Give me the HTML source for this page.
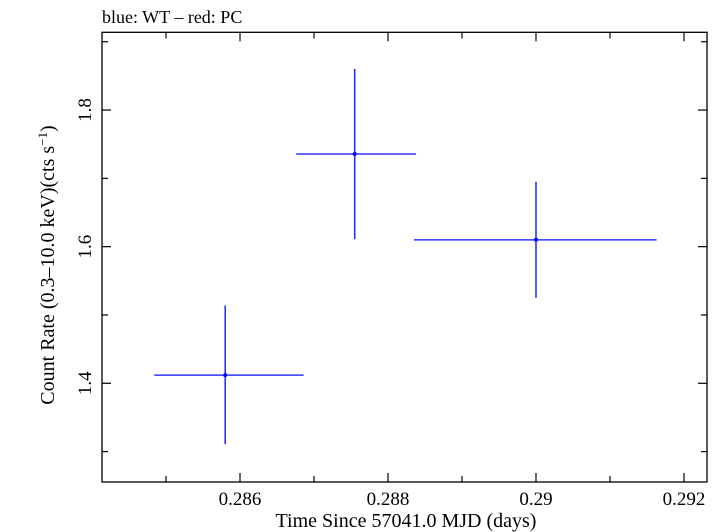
<!DOCTYPE html>
<html><head><meta charset="utf-8"><style>
body{margin:0;background:#fff}
svg{display:block;font-family:"Liberation Serif",serif}
</style></head><body>
<svg id="chart" width="723" height="532" viewBox="0 0 723 532" xmlns="http://www.w3.org/2000/svg">
<text x="102" y="23" font-size="18" fill="#000">blue: WT – red: PC</text>
<rect x="102" y="32.3" width="605" height="449.7" fill="none" stroke="#000" stroke-width="1.3"/>
<g id="ticks"></g>
<g id="marks"></g>
<text x="406" y="527" font-size="20" text-anchor="middle">Time Since 57041.0 MJD (days)</text>
<text transform="translate(54,265) rotate(-90)" font-size="20" text-anchor="middle">Count Rate (0.3–10.0 keV)(cts s<tspan dy="-7" font-size="13">−1</tspan><tspan dy="7">)</tspan></text>
</svg>
<script>
const xVals=[0.2858,0.28755,0.2900];
const xLo=[0.28484,0.28676,0.28835];
const xHi=[0.28686,0.28838,0.29163];
const yVals=[1.412,1.7356,1.610];
const yLo=[1.311,1.611,1.525];
const yHi=[1.514,1.860,1.695];
const xTickVals=[0.285,0.286,0.287,0.288,0.289,0.290,0.291,0.292];
const xTickLabels=["0.286","0.288","0.29","0.292"];
const yTickVals=[1.3,1.4,1.5,1.6,1.7,1.8,1.9];
const yTickLabels=["1.4","1.6","1.8"];
const L=102,R=707,T=32.3,B=482;
const X0=0.284135,X1=0.292311,Y0=1.2555,Y1=1.9138;
const sx=v=>L+(v-X0)/(X1-X0)*(R-L);
const sy=v=>B-(v-Y0)/(Y1-Y0)*(B-T);
const NS="http://www.w3.org/2000/svg";
const svg=document.getElementById('chart');
const tg=document.getElementById('ticks');
const mg=document.getElementById('marks');
function line(g,x1,y1,x2,y2,st,w){const l=document.createElementNS(NS,'line');l.setAttribute('x1',x1);l.setAttribute('y1',y1);l.setAttribute('x2',x2);l.setAttribute('y2',y2);l.setAttribute('stroke',st);l.setAttribute('stroke-width',w);g.appendChild(l);return l;}
function txt(x,y,s,anchor,rot){const t=document.createElementNS(NS,'text');t.setAttribute('x',x);t.setAttribute('y',y);t.setAttribute('font-size','19');t.setAttribute('text-anchor',anchor);if(rot)t.setAttribute('transform',rot);t.textContent=s;svg.appendChild(t);return t;}
xTickVals.forEach(v=>{const x=sx(v);const major=xTickLabels.includes(String(+v.toFixed(3)));const len=major?9:6;
const a=line(tg,x,B,x,B-len,'#000',1.2);


const b=line(tg,x,T,x,T+len,'#000',1.2);

});
xTickLabels.forEach(s=>{const t=txt(sx(parseFloat(s)),505,s,'middle');

});
yTickVals.forEach(v=>{const y=sy(v);const major=yTickLabels.includes(String(+v.toFixed(1)));const len=major?9:6;
const a=line(tg,L,y,L+len,y,'#000',1.2);


const b=line(tg,R,y,R-len,y,'#000',1.2);

});
yTickLabels.forEach(s=>{const y=sy(parseFloat(s));const t=txt(91,y,s,'middle','rotate(-90 91 '+y+')');

});
xVals.forEach((v,i)=>{const x=sx(v),y=sy(yVals[i]);
const h=line(mg,sx(xLo[i]),y,sx(xHi[i]),y,'#3333ff',1.5);


const vv=line(mg,x,sy(yLo[i]),x,sy(yHi[i]),'#2222ff',1.5);


const c=document.createElementNS(NS,'circle');c.setAttribute('cx',x);c.setAttribute('cy',y);c.setAttribute('r',2);c.setAttribute('fill','#0000ff');


mg.appendChild(c);});
</script>
</body></html>
